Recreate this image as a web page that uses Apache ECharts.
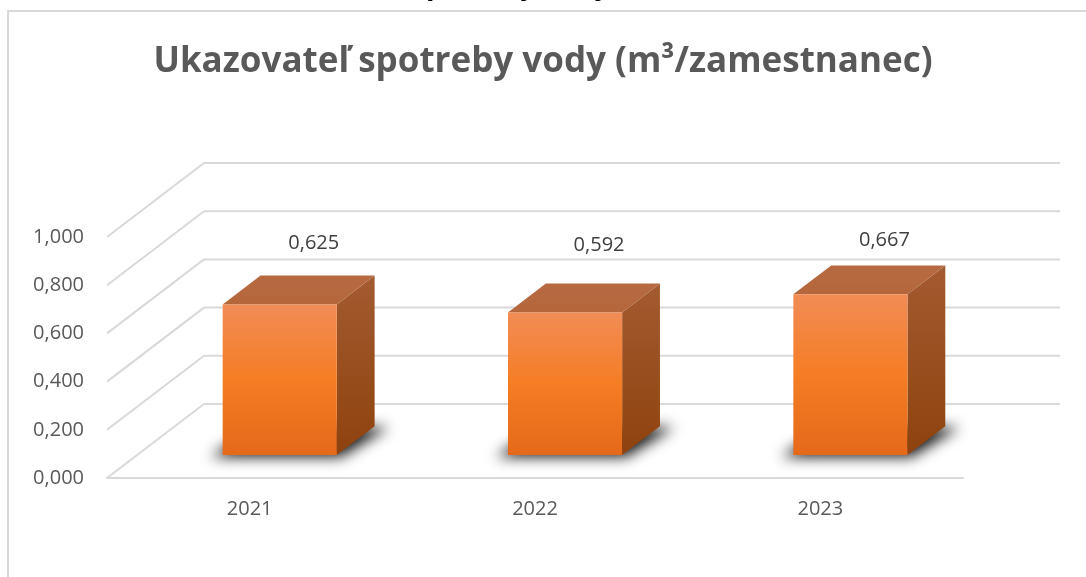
<!DOCTYPE html>
<html><head><meta charset="utf-8">
<script src="https://cdn.jsdelivr.net/npm/echarts@6/dist/echarts.min.js"></script>
<style>html,body{margin:0;padding:0;background:#fff}#c{width:1086px;height:577px}</style>
</head><body><div id="c"></div>
<script>
// ---- data ----
const categories = ['2021', '2022', '2023'];
const values = [0.625, 0.592, 0.667];
const gridLevels = [0, 0.2, 0.4, 0.6, 0.8, 1.0];
const titleText = 'Ukazovateľ spotreby vody (m³/zamestnanec)';
const clippedHeading = 'Ukazovateľ spotreby vody (m³/zamestnanec)';

// ---- style / layout ----
const DX = 97, DY = -74;           // depth offset from front plane to back wall
const BAR_F0 = 0.31, BAR_D = 0.39, BAR_W = 0.4;
const FONT = '"Open Sans", "Noto Sans", sans-serif';
const GRID_COLOR = '#d9d9d9';
const FAR = 3000;                  // shadow caster is drawn off-canvas, only its shadow shows

function fmt(v) { return Number(v).toFixed(3).replace('.', ','); }

const chart = echarts.init(document.getElementById('c'), null, { renderer: 'canvas' });
chart.setOption({
  animation: false,
  backgroundColor: '#ffffff',
  title: {
    text: titleText, left: 'center', top: 40,
    textStyle: { fontFamily: FONT, fontWeight: 'bold', fontSize: 35, color: '#595959' }
  },
  graphic: [
    { type: 'rect', z: -10, silent: true, shape: { x: 8, y: 11, width: 1200, height: 700 },
      style: { fill: 'none', stroke: GRID_COLOR, lineWidth: 2 } },
    { type: 'text', silent: true, x: 560, y: -14,
      style: { text: clippedHeading, fontFamily: FONT, fontWeight: 'bold', fontSize: 28, fill: '#000',
               align: 'center', verticalAlign: 'middle' } }
  ],
  grid: { left: 107, right: 123, top: 237, bottom: 99 },
  xAxis: {
    type: 'category', data: categories, boundaryGap: true,
    axisTick: { show: false },
    axisLine: { show: true, lineStyle: { color: GRID_COLOR, width: 2 } },
    axisLabel: { margin: 21, fontFamily: FONT, fontSize: 20, color: '#595959' }
  },
  yAxis: {
    type: 'value', min: 0, max: 1, interval: 0.2,
    splitLine: { show: false }, axisLine: { show: false }, axisTick: { show: false },
    axisLabel: { margin: 23, formatter: fmt, fontFamily: FONT, fontSize: 20, color: '#595959' }
  },
  series: [
    {
      type: 'custom', name: 'walls', silent: true, z: 1,
      data: gridLevels.map(v => [0, v]), encode: { x: 0, y: 1 },
      renderItem: function (params, api) {
        const cs = params.coordSys;
        const y = api.coord([0, api.value(1)])[1];
        const x0 = cs.x, x1 = cs.x + cs.width;
        return { type: 'group', children: [
          { type: 'line', shape: { x1: x0, y1: y, x2: x0 + DX, y2: y + DY },
            style: { stroke: GRID_COLOR, lineWidth: 2 } },
          { type: 'line', shape: { x1: x0 + DX, y1: y + DY, x2: x1 + DX, y2: y + DY },
            style: { stroke: GRID_COLOR, lineWidth: 2 } }
        ]};
      }
    },
    {
      type: 'custom', name: 'bars', z: 3,
      data: values.map((v, i) => [i, v]), encode: { x: 0, y: 1 },
      renderItem: function (params, api) {
        const i = api.value(0), v = api.value(1);
        const top = api.coord([i, v]);
        const base = api.coord([i, 0]);
        const bw = api.size([1, 0])[0];
        const ox = DX * BAR_F0, oy = DY * BAR_F0;
        const xl = top[0] - bw * BAR_W / 2 + ox, xr = top[0] + bw * BAR_W / 2 + ox;
        const yt = top[1] + oy, yb = base[1] + oy;
        const dx = DX * BAR_D, dy = DY * BAR_D;
        const G = echarts.graphic.LinearGradient;
        const sh = [[xl - 12, yb + 2], [xr + 4, yb + 2], [xr + dx + 14, yb + dy + 1], [xl + dx - 4, yb + dy]]
          .map(p => [p[0] - FAR, p[1]]);
        return { type: 'group', children: [
          { type: 'polygon', shape: { points: sh },
            style: { fill: '#000', shadowBlur: 14, shadowColor: 'rgba(0,0,0,0.9)',
                     shadowOffsetX: FAR, shadowOffsetY: 0 } },
          { type: 'polygon',
            shape: { points: [[xr, yt], [xr + dx, yt + dy], [xr + dx, yb + dy], [xr, yb]] },
            style: { fill: new G(0, 0, 0, 1, [{ offset: 0, color: '#A35B30' }, { offset: 1, color: '#8E420E' }]) } },
          { type: 'polygon',
            shape: { points: [[xl, yt], [xl + dx, yt + dy], [xr + dx, yt + dy], [xr, yt]] },
            style: { fill: new G(0, 0, 0, 1, [{ offset: 0, color: '#B76A42' }, { offset: 1, color: '#B5663B' }]) } },
          { type: 'rect', shape: { x: xl, y: yt, width: xr - xl, height: yb - yt },
            style: { fill: new G(0, 0, 0, 1, [{ offset: 0, color: '#F18C56' }, { offset: 0.5, color: '#F57D24' }, { offset: 1, color: '#E5691A' }]) } },
          { type: 'text', x: (xl + xr) / 2 + 34, y: 0.25 * yt + 167,
            style: { text: fmt(v), fontFamily: FONT, fontSize: 20, fill: '#404040', align: 'center', verticalAlign: 'middle' } }
        ]};
      }
    }
  ]
});
</script>
</body></html>
